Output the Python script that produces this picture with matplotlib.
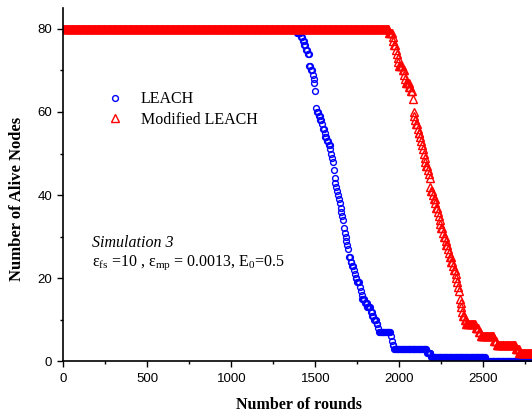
import numpy as np
import matplotlib
matplotlib.use("Agg")
import matplotlib.pyplot as plt
from matplotlib.ticker import MultipleLocator

plt.rcParams['mathtext.fontset'] = 'custom'
plt.rcParams['mathtext.rm'] = 'Liberation Serif'
plt.rcParams['mathtext.it'] = 'Liberation Serif:italic'

# round at which the alive count drops to 79, 78, ..., 0
leach_deaths = [1390, 1411, 1422, 1432, 1441, 1451, 1461, 1463, 1465, 1475,
                1484, 1490, 1494, 1497, 1499, 1502, 1502, 1503, 1505, 1508,
                1520, 1530, 1538, 1544, 1552, 1560, 1570, 1579, 1586, 1592,
                1599, 1603, 1606, 1609, 1611, 1614, 1618, 1623, 1628, 1633,
                1638, 1644, 1649, 1654, 1659, 1663, 1666, 1670, 1673, 1678,
                1683, 1688, 1692, 1696, 1700, 1706, 1716, 1726, 1731, 1736,
                1750, 1764, 1768, 1772, 1778, 1792, 1810, 1828, 1840, 1850,
                1865, 1872, 1880, 1946, 1952, 1956, 1966, 2165, 2189, 2511]
mod_leach_deaths = [1936, 1956, 1962, 1968, 1976, 1984, 1988, 1993, 1997, 2020,
                    2027, 2032, 2037, 2057, 2067, 2077, 2080, 2081, 2082, 2085,
                    2088, 2095, 2100, 2106, 2114, 2122, 2130, 2135, 2140, 2144,
                    2148, 2152, 2158, 2168, 2175, 2180, 2182, 2184, 2190, 2196,
                    2204, 2212, 2220, 2228, 2234, 2239, 2244, 2248, 2256, 2264,
                    2271, 2280, 2289, 2294, 2300, 2308, 2316, 2324, 2332, 2338,
                    2344, 2348, 2352, 2356, 2360, 2365, 2370, 2375, 2380, 2388,
                    2400, 2451, 2471, 2481, 2565, 2580, 2693, 2713, 2860, 2940]
n_nodes = 80
rounds = np.arange(0, 2850, 5)
x_ticks = [0, 500, 1000, 1500, 2000, 2500]

leach_alive = n_nodes - np.searchsorted(leach_deaths, rounds, side='right')
mod_alive = n_nodes - np.searchsorted(mod_leach_deaths, rounds, side='right')

fig = plt.figure(figsize=(5.32, 4.12), dpi=100)
# axes run to 2800 rounds; the right spine falls just past the picture edge
ax = fig.add_axes([63.3 / 532, 50.6 / 412, 470.4 / 532, 353.4 / 412])

ax.plot(rounds, leach_alive, 'o', mfc='none', mec='#0000ff', ms=4.2, mew=1.0,
        label='LEACH')
ax.plot(rounds, mod_alive, '^', mfc='none', mec='#ff0000', ms=5.2, mew=1.0,
        label='Modified LEACH')

ax.set_xlim(0, 2800)
ax.set_ylim(0, 85)
ax.set_xticks(x_ticks)
ax.xaxis.set_minor_locator(MultipleLocator(250))
ax.yaxis.set_major_locator(MultipleLocator(20))
ax.yaxis.set_minor_locator(MultipleLocator(10))
ax.tick_params(which='major', direction='out', length=4.5, width=1, labelsize=9.5)
ax.tick_params(which='minor', direction='out', length=2.5, width=1)
for lab in ax.get_xticklabels() + ax.get_yticklabels():
    lab.set_fontfamily('Liberation Sans')
ax.spines['top'].set_visible(False)
ax.spines['right'].set_visible(False)
for s in ['left', 'bottom']:
    ax.spines[s].set_linewidth(1.2)

ax.set_xlabel('Number of rounds', family='Liberation Serif', weight='bold',
              fontsize=11.5, labelpad=9)
ax.set_ylabel('Number of Alive Nodes', family='Liberation Serif', weight='bold',
              fontsize=12)
ax.yaxis.set_label_coords(-0.082, 0.46)

ax.legend(loc='upper left', bbox_to_anchor=(0.06, 0.805), frameon=False,
          prop={'family': 'Liberation Serif', 'size': 11.5}, handlelength=1.2,
          handletextpad=1.0, labelspacing=0.3, numpoints=1)

# annotation texts placed by pixel position (from the top-left corner)
fig.text(92 / 532, 1 - 243 / 412, 'Simulation 3', fontsize=11.5,
         family='Liberation Serif', style='italic', va='center')
fig.text(92 / 532, 1 - 263 / 412,
         r'ε$_{\mathrm{fs}}$ =10 , ε$_{\mathrm{mp}}$ = 0.0013, E$_{\mathrm{0}}$=0.5',
         fontsize=11.5, family='Liberation Serif', va='center')

fig.savefig('out.png', dpi=100)
